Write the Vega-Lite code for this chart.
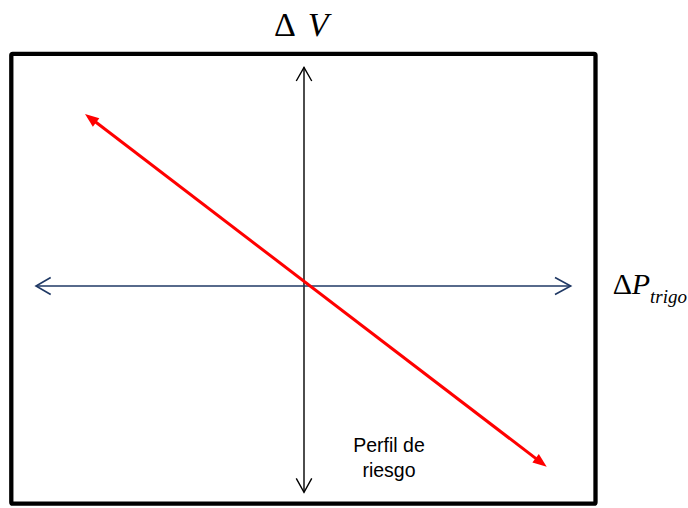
{
  "$schema": "https://vega.github.io/schema/vega-lite/v6.json",
  "width": 688,
  "height": 508,
  "autosize": {"type": "none"},
  "padding": 0,
  "background": "white",
  "config": {"view": {"stroke": null}},
  "datasets": {
    "box": [{"x": -5.854, "x2": 5.83, "y": 4.644, "y2": -4.354}],
    "vaxis": [
      {"id": "v", "ord": 0, "x": 0, "y": 4.374},
      {"id": "v", "ord": 1, "x": 0, "y": -4.126},
      {"id": "vt", "ord": 0, "x": -0.155, "y": 4.1},
      {"id": "vt", "ord": 1, "x": 0, "y": 4.374},
      {"id": "vt", "ord": 2, "x": 0.155, "y": 4.1},
      {"id": "vb", "ord": 0, "x": -0.155, "y": -3.846},
      {"id": "vb", "ord": 1, "x": 0, "y": -4.126},
      {"id": "vb", "ord": 2, "x": 0.155, "y": -3.846}
    ],
    "haxis": [
      {"id": "h", "ord": 0, "x": -5.36, "y": 0},
      {"id": "h", "ord": 1, "x": 5.334, "y": 0},
      {"id": "hl", "ord": 0, "x": -5.066, "y": 0.17},
      {"id": "hl", "ord": 1, "x": -5.36, "y": 0},
      {"id": "hl", "ord": 2, "x": -5.066, "y": -0.17},
      {"id": "hr", "ord": 0, "x": 5.02, "y": 0.17},
      {"id": "hr", "ord": 1, "x": 5.334, "y": 0},
      {"id": "hr", "ord": 2, "x": 5.02, "y": -0.17}
    ],
    "risk": [
      {"ord": 0, "x": -4.252, "y": 3.344},
      {"ord": 1, "x": 4.726, "y": -3.518}
    ],
    "headTL": [{"x": -4.38, "y": 3.44}],
    "headBR": [{"x": 4.854, "y": -3.614}],
    "serifUp": [
      {"label": "Δ", "x": -0.6, "y": 5.0, "grp": "title"}
    ],
    "serifUpR": [
      {"label": "Δ", "x": 6.174, "y": -0.16}
    ],
    "serifItT": [
      {"label": "V", "x": 0.074, "y": 5.0}
    ],
    "serifItR": [
      {"label": "P", "x": 6.554, "y": -0.16}
    ],
    "sub": [
      {"label": "trigo", "x": 6.92, "y": -0.346}
    ],
    "note": [
      {"label": "Perfil de", "x": 1.7, "y": -3.314},
      {"label": "riesgo", "x": 1.7, "y": -3.814}
    ]
  },
  "layer": [
    {
      "data": {"name": "box"},
      "mark": {"type": "rect", "fill": null, "fillOpacity": 0, "stroke": "#000000", "strokeWidth": 4.3, "cornerRadius": 1.5},
      "encoding": {
        "x": {"field": "x", "type": "quantitative", "scale": {"domain": [-6.08, 7.68], "nice": false, "zero": false}, "axis": null},
        "x2": {"field": "x2"},
        "y": {"field": "y", "type": "quantitative", "scale": {"domain": [-4.44, 5.72], "nice": false, "zero": false}, "axis": null},
        "y2": {"field": "y2"}
      }
    },
    {
      "data": {"name": "vaxis"},
      "mark": {"type": "line", "color": "#000000", "strokeWidth": 1.4},
      "encoding": {
        "x": {"field": "x", "type": "quantitative"},
        "y": {"field": "y", "type": "quantitative"},
        "detail": {"field": "id"},
        "order": {"field": "ord"}
      }
    },
    {
      "data": {"name": "haxis"},
      "mark": {"type": "line", "color": "#1F3864", "strokeWidth": 1.6},
      "encoding": {
        "x": {"field": "x", "type": "quantitative"},
        "y": {"field": "y", "type": "quantitative"},
        "detail": {"field": "id"},
        "order": {"field": "ord"}
      }
    },
    {
      "data": {"name": "risk"},
      "mark": {"type": "line", "color": "#FF0000", "strokeWidth": 3},
      "encoding": {
        "x": {"field": "x", "type": "quantitative"},
        "y": {"field": "y", "type": "quantitative"},
        "order": {"field": "ord"}
      }
    },
    {
      "data": {"name": "headTL"},
      "mark": {"type": "point", "shape": "M0,0L0.42,1.1L-0.42,1.1Z", "filled": true, "color": "#FF0000", "opacity": 1, "size": 645, "angle": 307.4, "strokeWidth": 0},
      "encoding": {
        "x": {"field": "x", "type": "quantitative"},
        "y": {"field": "y", "type": "quantitative"}
      }
    },
    {
      "data": {"name": "headBR"},
      "mark": {"type": "point", "shape": "M0,0L0.42,1.1L-0.42,1.1Z", "filled": true, "color": "#FF0000", "opacity": 1, "size": 645, "angle": 127.4, "strokeWidth": 0},
      "encoding": {
        "x": {"field": "x", "type": "quantitative"},
        "y": {"field": "y", "type": "quantitative"}
      }
    },
    {
      "data": {"name": "serifUp"},
      "mark": {"type": "text", "font": "Liberation Serif", "fontSize": 34, "align": "left", "baseline": "alphabetic", "color": "#000000"},
      "encoding": {
        "x": {"field": "x", "type": "quantitative"},
        "y": {"field": "y", "type": "quantitative"},
        "text": {"field": "label"}
      }
    },
    {
      "data": {"name": "serifItT"},
      "mark": {"type": "text", "font": "Liberation Serif", "fontStyle": "italic", "fontSize": 34, "align": "left", "baseline": "alphabetic", "color": "#000000"},
      "encoding": {
        "x": {"field": "x", "type": "quantitative"},
        "y": {"field": "y", "type": "quantitative"},
        "text": {"field": "label"}
      }
    },
    {
      "data": {"name": "serifUpR"},
      "mark": {"type": "text", "font": "Liberation Serif", "fontSize": 30, "align": "left", "baseline": "alphabetic", "color": "#000000"},
      "encoding": {
        "x": {"field": "x", "type": "quantitative"},
        "y": {"field": "y", "type": "quantitative"},
        "text": {"field": "label"}
      }
    },
    {
      "data": {"name": "serifItR"},
      "mark": {"type": "text", "font": "Liberation Serif", "fontStyle": "italic", "fontSize": 30, "align": "left", "baseline": "alphabetic", "color": "#000000"},
      "encoding": {
        "x": {"field": "x", "type": "quantitative"},
        "y": {"field": "y", "type": "quantitative"},
        "text": {"field": "label"}
      }
    },
    {
      "data": {"name": "sub"},
      "mark": {"type": "text", "font": "Liberation Serif", "fontStyle": "italic", "fontSize": 19, "align": "left", "baseline": "alphabetic", "color": "#000000"},
      "encoding": {
        "x": {"field": "x", "type": "quantitative"},
        "y": {"field": "y", "type": "quantitative"},
        "text": {"field": "label"}
      }
    },
    {
      "data": {"name": "note"},
      "mark": {"type": "text", "font": "Liberation Sans", "fontSize": 19.5, "align": "center", "baseline": "alphabetic", "color": "#000000"},
      "encoding": {
        "x": {"field": "x", "type": "quantitative"},
        "y": {"field": "y", "type": "quantitative"},
        "text": {"field": "label"}
      }
    }
  ]
}
